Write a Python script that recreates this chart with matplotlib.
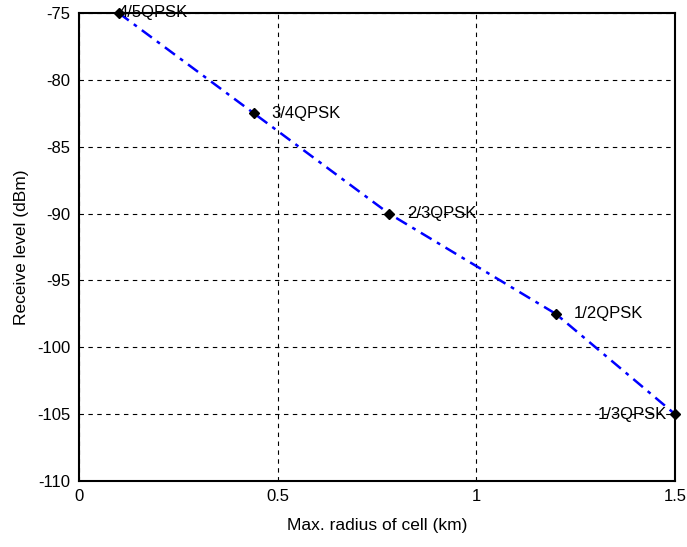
import matplotlib
matplotlib.use("Agg")
import matplotlib.pyplot as plt

plt.rcParams['font.family'] = ['Liberation Sans', 'DejaVu Sans']
plt.rcParams['axes.unicode_minus'] = False

radius_km = [0.1, 0.44, 0.78, 1.2, 1.5]
level_dbm = [-75, -82.5, -90, -97.5, -105]
labels = ['4/5QPSK', '3/4QPSK', '2/3QPSK', '1/2QPSK', '1/3QPSK']
label_offsets = [(0.0, 'left'), (0.045, 'left'), (0.045, 'left'), (0.045, 'left'), (-0.02, 'right')]

fig = plt.figure(figsize=(6.87, 5.47), dpi=100)
ax = fig.add_axes([79/687, 1 - 481/547, 596/687, 468/547])

ax.plot(radius_km, level_dbm, color='blue', linestyle=(0, (5, 2.5, 1.5, 2.5)), linewidth=1.8, zorder=3)
ax.plot(radius_km, level_dbm, linestyle='none', marker='D', markersize=5.5,
        color='black', zorder=4, clip_on=False)

for x, y, t, (dx, ha) in zip(radius_km, level_dbm, labels, label_offsets):
    ax.text(x + dx, y, t, ha=ha, va='center', fontsize=12, zorder=5)

ax.set_xlim(0, 1.5)
ax.set_ylim(-110, -75)
ax.set_xticks([0, 0.5, 1, 1.5])
ax.set_xticklabels(['0', '0.5', '1', '1.5'])
ax.set_yticks(range(-110, -74, 5))
ax.grid(True, color='black', linestyle=(0, (4, 4)), linewidth=0.8)
ax.tick_params(direction='in', length=0, labelsize=12, pad=6)
for s in ax.spines.values():
    s.set_linewidth(1.5)

ax.set_xlabel('Max. radius of cell (km)', fontsize=12.5, labelpad=10)
ax.set_ylabel('Receive level (dBm)', fontsize=12.5, labelpad=6)

fig.savefig('out.png', dpi=100)
